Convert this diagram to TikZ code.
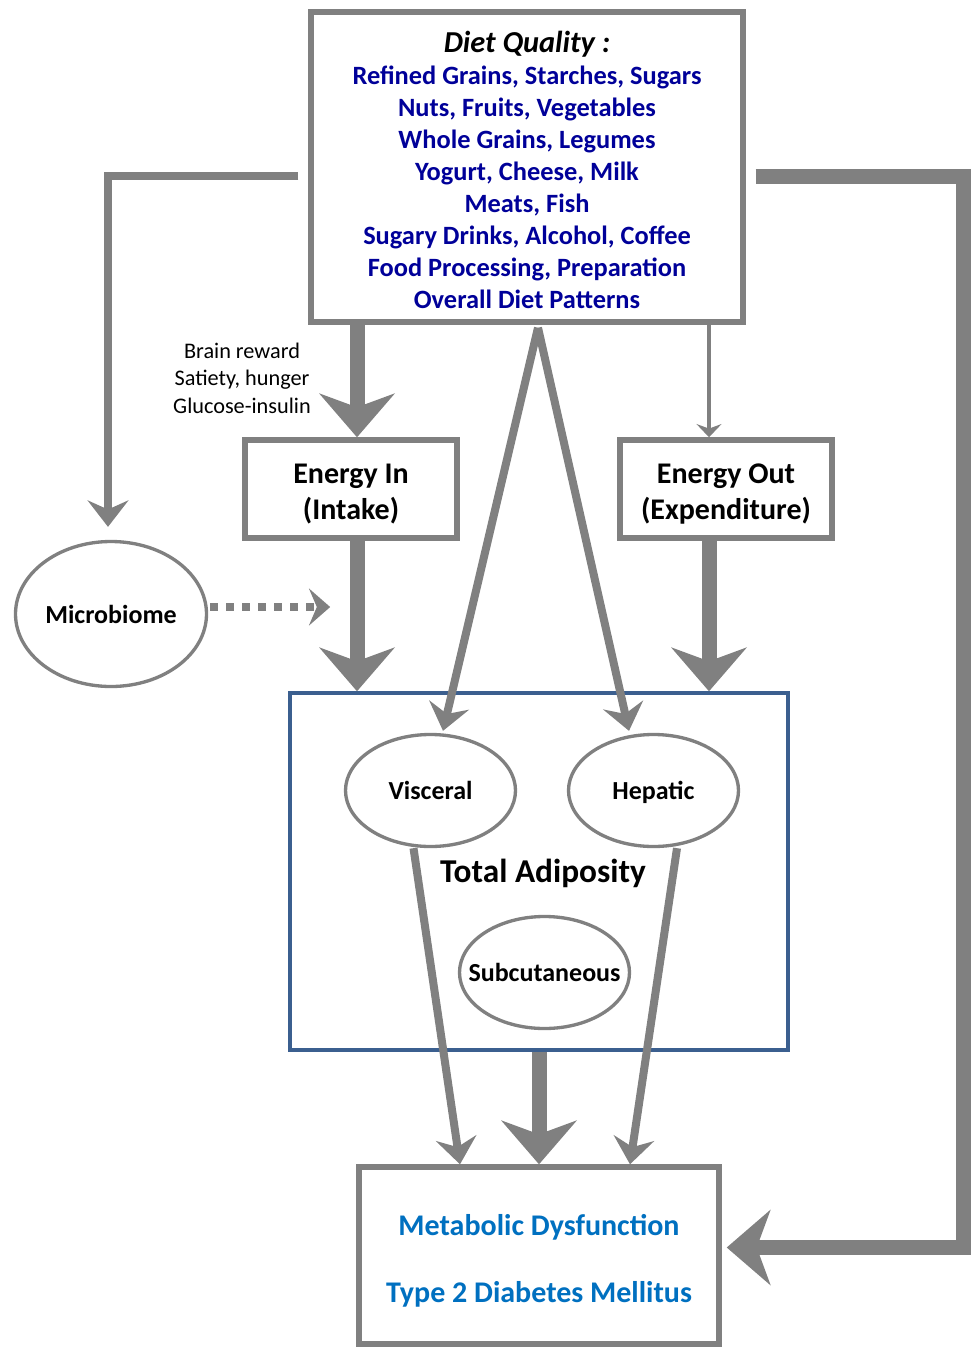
\documentclass[tikz,border=0pt]{standalone}
\usepackage{fontspec}
\setmainfont{Carlito}
\usetikzlibrary{arrows.meta,calc,shapes.geometric}
\definecolor{arrgray}{HTML}{808080}
\definecolor{navy}{HTML}{000099}
\definecolor{metablue}{HTML}{0070C0}
\definecolor{adipblue}{HTML}{3B5F8F}
\begin{document}
\begin{tikzpicture}[x=0.75pt,y=-0.75pt,
  box/.style={draw=arrgray, line width=4.1pt, fill=white, inner sep=0pt, align=center},
  boxtext/.style={align=center, inner sep=0pt, font=\bfseries\fontsize{22.5}{27}\selectfont},
  oval/.style={ellipse, draw=arrgray, line width=2.5pt, fill=white, inner sep=0pt, text depth=0pt, font=\bfseries\fontsize{19.5}{23}\selectfont},
  bigarrow/.style={draw=arrgray, line width=11.25pt, -{Stealth[length=33pt,width=57pt,inset=10.5pt,line width=0pt]}},
  medarrow/.style={draw=arrgray, line width=6pt, -{Stealth[length=20pt,width=31pt,inset=7pt,line width=0pt]}},
  thinarrow/.style={draw=arrgray, line width=3pt, -{Stealth[length=10pt,width=19pt,inset=3.5pt,line width=0pt]}},
  dotarrow/.style={draw=arrgray, line width=6pt, dash pattern=on 6pt off 6pt, -{Stealth[length=16pt,width=28pt,inset=6pt,line width=0pt]}},
]
\useasboundingbox (0,0) rectangle (971,1349);

% boxes
\node[box, minimum width=324pt, minimum height=232.5pt] (diet) at (527,167) {};
\node[align=center, text=navy, font=\bfseries\fontsize{19.8}{24}\selectfont] (dietText) at (527,170)
 {{\itshape\color{black}\fontsize{22.8}{24}\selectfont Diet Quality :}\\
  Refined Grains, Starches, Sugars\\
  Nuts, Fruits, Vegetables\\
  Whole Grains, Legumes\\
  Yogurt, Cheese, Milk\\
  Meats, Fish\\
  Sugary Drinks, Alcohol, Coffee\\
  Food Processing, Preparation\\
  Overall Diet Patterns};

\node[box, minimum width=159pt, minimum height=73.5pt] (ein) at (351,489) {};
\node[boxtext] (einText) at (351,494) {Energy In\\(Intake)};
\node[box, minimum width=159pt, minimum height=73.5pt] (eout) at (726,489) {};
\node[boxtext] (eoutText) at (726,494) {Energy Out\\(Expenditure)};

\node[align=center, font=\fontsize{16.7}{20.6}\selectfont] (mech) at (242,378) {Brain reward\\Satiety, hunger\\Glucose-insulin};

\node[oval, minimum width=143.25pt, minimum height=108.75pt] (micro) at (111,614) {\makebox[0pt]{Microbiome}};

\node[draw=adipblue, line width=2.6pt, fill=white, inner sep=0pt, minimum width=373.5pt, minimum height=267.75pt] (adip) at (539,871.5) {};
\node[oval, minimum width=127.5pt, minimum height=84pt] (visc) at (430.5,790.5) {\makebox[0pt]{Visceral}};
\node[oval, minimum width=127.5pt, minimum height=84pt] (hep) at (653.5,790.5) {\makebox[0pt]{Hepatic}};
\node[oval, minimum width=127.5pt, minimum height=84pt] (subc) at (544.5,972.5) {\makebox[0pt]{Subcutaneous}};
\node[font=\bfseries\fontsize{25}{30}\selectfont] (total) at (543,873) {Total Adiposity};

\node[box, minimum width=270pt, minimum height=132.75pt] (meta) at (539,1255.5) {};
\node[align=center, inner sep=0pt, text=metablue, font=\bfseries\fontsize{22.5}{50}\selectfont] (metaText) at (539,1260.5) {Metabolic Dysfunction\\Type 2 Diabetes Mellitus};

% helper coordinates
\coordinate (eintop) at ($(ein.north)+(6,0)$);
\coordinate (einbot) at ($(ein.south)+(6,0)$);
\coordinate (eotop) at ($(eout.north)+(-17,0)$);
\coordinate (eobot) at ($(eout.south)+(-17,0)$);
\coordinate (apex) at ($(diet.south)+(11,3)$);
\coordinate (lstart) at ($(diet.west)+(-10,9)$);
\coordinate (mtop) at ($(micro.north)+(-3,-13)$);
\coordinate (rstart) at ($(diet.east)+(10,9)$);
\coordinate (rtip) at ($(meta.east)+(5,-8)$);
\coordinate (rcol) at ($(rtip)+(237,0)$);
\coordinate (dotstart) at ($(micro.east)+(2,-7)$);
\coordinate (dotend) at ($(micro.east)+(122,-7)$);

% connectors
\draw[bigarrow] (diet.south -| eintop) -- (eintop);
\draw[thinarrow] (diet.south -| eotop) -- (eotop);
\draw[bigarrow] (einbot) -- (adip.north -| einbot);
\draw[bigarrow] (eobot) -- (adip.north -| eobot);
\draw[medarrow] (lstart) -| (mtop);
\draw[bigarrow] (rstart) -| (rcol) -- (rtip);
\draw[dotarrow] (dotstart) -- (dotend);
\draw[medarrow] (apex) -- ($(visc.north)+(12.5,-2)$);
\draw[medarrow] (apex) -- ($(hep.north)+(-24.5,-2)$);
\draw[medarrow] ($(visc.south)+(-17,0)$) -- ($(meta.north)+(-79,0)$);
\draw[medarrow] ($(hep.south)+(23.5,0)$) -- ($(meta.north)+(91,0)$);
\draw[bigarrow] (adip.south) -- (meta.north);
\end{tikzpicture}
\end{document}
